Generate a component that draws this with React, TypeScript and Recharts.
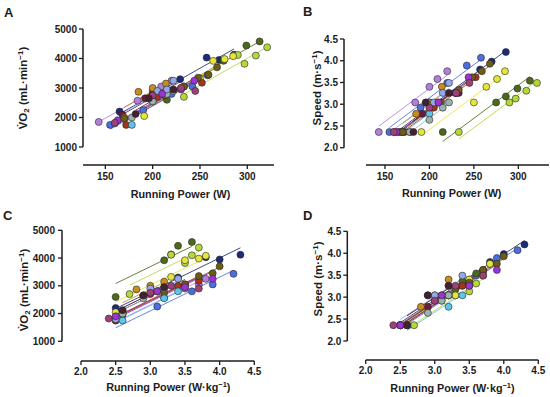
import React from 'react';
import { ScatterChart, Scatter, XAxis, YAxis, ReferenceLine } from 'recharts';

// ---- Data (one entry per participant) ----
const participants = ['P1', 'P2', 'P3', 'P4', 'P5', 'P6', 'P7', 'P8', 'P9', 'P10', 'P11', 'P12', 'P13', 'P14', 'P15', 'P16'];
const colors = ['#b37fdc', '#4d6ee0', '#1e2a78', '#4d6a1c', '#b4d83a', '#e4e63a', '#6b1b3c', '#a8321c', '#c88d1e', '#6d5c16', '#5cc6ea', '#9bb3ae', '#95a9e8', '#9a35d4', '#a13f78', '#45202f'];

const powerW = [
  [143, 184, 200, 209, 220],
  [155, 190, 220, 242, 258],
  [165, 196, 229, 257, 270, 286],
  [215, 275, 286, 299, 313],
  [233, 290, 297, 309, 321],
  [191, 250, 264, 276, 285],
  [168, 192, 200, 233],
  [172, 205, 230, 252],
  [170, 185, 200, 214],
  [170, 213, 233, 248, 259, 268],
  [178, 200, 210],
  [178, 200, 215, 222],
  [160, 205, 215, 222],
  [163, 210, 230, 244],
  [160, 200, 230, 245],
  [182, 196, 222],
];

const powerWkg = [
  [2.5, 3.2, 3.5, 3.7, 3.8],
  [2.5, 3.1, 3.6, 3.9, 4.2],
  [2.5, 2.9, 3.4, 3.8, 4.0, 4.3],
  [2.5, 3.2, 3.3, 3.4, 3.6],
  [2.7, 3.3, 3.5, 3.6, 3.7],
  [2.5, 3.3, 3.5, 3.7, 3.8],
  [2.6, 2.9, 3.1, 3.5],
  [2.5, 3.0, 3.4, 3.7],
  [2.6, 2.8, 3.0, 3.2],
  [2.6, 3.2, 3.5, 3.7, 3.9, 4.0],
  [2.6, 3.2, 3.4],
  [2.6, 2.9, 3.1, 3.2],
  [2.5, 3.0, 3.2, 3.4],
  [2.5, 3.1, 3.5, 3.9],
  [2.4, 3.0, 3.3, 3.7],
  [2.6, 2.9, 3.2],
];

const speed = [
  [2.36, 3.04, 3.40, 3.58, 3.76],
  [2.36, 2.92, 3.49, 3.89, 4.07],
  [2.36, 3.04, 3.26, 3.80, 3.98, 4.20],
  [2.36, 3.04, 3.18, 3.36, 3.54],
  [2.36, 3.04, 3.13, 3.31, 3.49],
  [2.36, 3.04, 3.40, 3.58, 3.76],
  [2.36, 2.78, 3.04, 3.26],
  [2.36, 2.92, 3.26, 3.62],
  [2.36, 2.78, 3.04, 3.40],
  [2.36, 3.04, 3.33, 3.62, 3.76, 3.93],
  [2.36, 2.78, 3.04],
  [2.36, 2.64, 2.92, 3.04],
  [2.36, 3.04, 3.26, 3.49],
  [2.36, 3.04, 3.26, 3.62],
  [2.36, 2.92, 3.26, 3.49],
  [2.36, 3.04, 3.26],
];

const vo2 = [
  [1850, 2570, 2900, 3050, 3250],
  [1750, 2250, 2800, 3050, 3430],
  [2200, 2650, 3300, 4030, 3950, 4120],
  [2600, 3920, 4130, 4440, 4580],
  [2700, 4120, 3820, 4100, 4380],
  [2050, 3320, 3920, 3980, 4080],
  [2100, 2650, 2800, 3050],
  [1750, 2700, 3000, 3180],
  [2000, 2870, 3000, 3150],
  [1960, 2750, 3050, 3350, 3450, 3700],
  [1750, 2550, 2800],
  [2000, 2550, 2800, 2900],
  [1800, 2900, 2950, 3250],
  [1900, 2800, 2950, 3250],
  [1820, 2750, 3000, 2900],
  [2120, 2650, 2950],
];

const ticksW = [150, 200, 250, 300];
const ticksWkg = [2.0, 2.5, 3.0, 3.5, 4.0, 4.5];
const ticksVO2 = [1000, 2000, 3000, 4000, 5000];
const ticksSpeed = [2.0, 2.5, 3.0, 3.5, 4.0, 4.5];

// ---- helpers ----
const FONT = '"Liberation Sans", Arial, Helvetica, sans-serif';
const INK = '#1c1c1c';

const mean = (a: number[]) => a.reduce((s, v) => s + v, 0) / a.length;

// repeated-measures fit: common slope, individual intercepts
function rmLines(xs: number[][], ys: number[][]) {
  let sxy = 0;
  let sxx = 0;
  const m = xs.map((xr, i) => {
    const mx = mean(xr);
    const my = mean(ys[i]);
    xr.forEach((x, j) => {
      sxy += (x - mx) * (ys[i][j] - my);
      sxx += (x - mx) * (x - mx);
    });
    return { mx, my };
  });
  const slope = sxy / sxx;
  return xs.map((xr, i) => {
    const x1 = Math.min(...xr);
    const x2 = Math.max(...xr);
    const b = m[i].my - slope * m[i].mx;
    return [
      { x: x1, y: b + slope * x1 },
      { x: x2, y: b + slope * x2 },
    ];
  });
}

const Dot = (color: string) => (p: any) => (
  <circle cx={p.cx} cy={p.cy} r={3.5} fill={color} stroke="#262626" strokeWidth={0.6} />
);
const NoShape = () => <g />;

type PanelProps = {
  left: number;
  top: number;
  width: number;
  height: number;
  margin: { top: number; right: number; bottom: number; left: number };
  yWidth: number;
  xHeight: number;
  xDomain: [number, number];
  yDomain: [number, number];
  xTicks: number[];
  yTicks: number[];
  xs: number[][];
  ys: number[][];
  xLineFrom: number;
  xLineTo: number;
  yLineFrom: number;
  yLineTo: number;
  xDec: number;
  yDec: number;
  yTickMargin: number;
  xTickMargin: number;
};

function Panel(props: PanelProps) {
  const {
    left, top, width, height, margin, yWidth, xHeight, xDomain, yDomain, xTicks, yTicks, xs, ys,
    xLineFrom, xLineTo, yLineFrom, yLineTo, xDec, yDec, yTickMargin, xTickMargin,
  } = props;
  const lines = rmLines(xs, ys);
  const tickStyle = { fontSize: 10, fontWeight: 700, fill: INK, fontFamily: FONT };
  return (
    <div style={{ position: 'absolute', left, top, width, height }}>
      <ScatterChart width={width} height={height} margin={margin}>
        <XAxis
          type="number"
          dataKey="x"
          domain={xDomain}
          ticks={xTicks}
          allowDataOverflow
          interval={0}
          axisLine={false}
          tickLine={{ stroke: INK, strokeWidth: 1.3 }}
          tickSize={4}
          tickMargin={xTickMargin}
          tick={tickStyle}
          height={xHeight}
          tickFormatter={(v: number) => v.toFixed(xDec)}
        />
        <YAxis
          type="number"
          dataKey="y"
          domain={yDomain}
          ticks={yTicks}
          allowDataOverflow
          interval={0}
          axisLine={false}
          tickLine={{ stroke: INK, strokeWidth: 1.3 }}
          tickSize={4}
          tickMargin={yTickMargin}
          tick={tickStyle}
          width={yWidth}
          tickFormatter={(v: number) => v.toFixed(yDec)}
        />
        <ReferenceLine
          segment={[{ x: xLineFrom, y: yDomain[0] }, { x: xLineTo, y: yDomain[0] }]}
          stroke={INK}
          strokeWidth={1.5}
          ifOverflow="visible"
        />
        <ReferenceLine
          segment={[{ x: xDomain[0], y: yLineFrom }, { x: xDomain[0], y: yLineTo }]}
          stroke={INK}
          strokeWidth={1.5}
          ifOverflow="visible"
        />
        {lines.map((seg, i) => (
          <Scatter
            key={'l' + participants[i]}
            name={participants[i] + ' fit'}
            data={seg}
            line={{ stroke: colors[i], strokeWidth: 1, strokeOpacity: 0.85 }}
            lineType="joint"
            shape={NoShape}
            isAnimationActive={false}
          />
        ))}
        {xs.map((xr, i) => (
          <Scatter
            key={'p' + participants[i]}
            name={participants[i]}
            data={xr.map((x, j) => ({ x, y: ys[i][j] }))}
            shape={Dot(colors[i])}
            isAnimationActive={false}
          />
        ))}
      </ScatterChart>
    </div>
  );
}

const tt = { fontFamily: FONT, fontWeight: 700, fill: INK } as const;

export default function App() {
  return (
    <div style={{ position: 'absolute', left: 0, top: 0, width: 550, height: 397, background: '#fff' }}>
      <Panel
        left={0} top={0} width={275} height={200}
        margin={{ top: 29, right: 1, bottom: 0, left: 0 }}
        yWidth={83} xHeight={35}
        xDomain={[126.4, 328.2]} yDomain={[390, 5000]}
        xTicks={ticksW} yTicks={ticksVO2}
        xs={powerW} ys={vo2}
        xLineFrom={126.4} xLineTo={328.2} yLineFrom={1000} yLineTo={5000}
        xDec={0} yDec={0} yTickMargin={2} xTickMargin={4}
      />
      <Panel
        left={275} top={0} width={275} height={200}
        margin={{ top: 39, right: 1, bottom: 0, left: 0 }}
        yWidth={69} xHeight={35}
        xDomain={[103.9, 334.5]} yDomain={[1.602, 4.5]}
        xTicks={ticksW} yTicks={ticksSpeed}
        xs={powerW} ys={speed}
        xLineFrom={128.6} xLineTo={334.5} yLineFrom={2.0} yLineTo={4.5}
        xDec={0} yDec={1} yTickMargin={2} xTickMargin={4}
      />
      <Panel
        left={0} top={200} width={275} height={197}
        margin={{ top: 30.3, right: 20.7, bottom: 0, left: 0 }}
        yWidth={62} xHeight={36}
        xDomain={[1.726, 4.5]} yDomain={[290, 5000]}
        xTicks={ticksWkg} yTicks={ticksVO2}
        xs={powerWkg} ys={vo2}
        xLineFrom={2.0} xLineTo={4.5} yLineFrom={1000} yLineTo={5000}
        xDec={1} yDec={0} yTickMargin={3} xTickMargin={3}
      />
      <Panel
        left={275} top={200} width={275} height={197}
        margin={{ top: 31.3, right: 11.7, bottom: 0, left: 0 }}
        yWidth={72.3} xHeight={37}
        xDomain={[1.733, 4.5]} yDomain={[1.567, 4.5]}
        xTicks={ticksWkg} yTicks={ticksSpeed}
        xs={powerWkg} ys={speed}
        xLineFrom={2.0} xLineTo={4.5} yLineFrom={2.0} yLineTo={4.5}
        xDec={1} yDec={1} yTickMargin={2} xTickMargin={3}
      />
      <svg width={550} height={397} style={{ position: 'absolute', left: 0, top: 0, pointerEvents: 'none' }}>
        <text x={4} y={17} fontSize={13} {...tt}>A</text>
        <text x={303} y={16} fontSize={13} {...tt}>B</text>
        <text x={3} y={220} fontSize={13} {...tt}>C</text>
        <text x={303} y={220} fontSize={13} {...tt}>D</text>

        <text x={180.5} y={197.5} fontSize={10.8} textAnchor="middle" {...tt}>Running Power (W)</text>
        <text x={451.7} y={197} fontSize={10.8} textAnchor="middle" {...tt}>Running Power (W)</text>
        <text x={168.3} y={391} fontSize={10.8} textAnchor="middle" {...tt}>
          Running Power (W·kg<tspan dy={-3.8} fontSize={7.5}>−1</tspan><tspan dy={3.8}>)</tspan>
        </text>
        <text x={452.5} y={392} fontSize={10.8} textAnchor="middle" {...tt}>
          Running Power (W·kg<tspan dy={-3.8} fontSize={7.5}>−1</tspan><tspan dy={3.8}>)</tspan>
        </text>

        <text transform="translate(26.5,88) rotate(-90)" fontSize={11.5} textAnchor="middle" {...tt}>
          V̇O<tspan dy={2.8} fontSize={8}>2</tspan><tspan dy={-2.8}> (mL·min</tspan><tspan dy={-4} fontSize={8}>−1</tspan><tspan dy={4}>)</tspan>
        </text>
        <text transform="translate(321,88) rotate(-90)" fontSize={11.5} textAnchor="middle" {...tt}>
          Speed (m·s<tspan dy={-4} fontSize={8}>−1</tspan><tspan dy={4}>)</tspan>
        </text>
        <text transform="translate(27.5,290) rotate(-90)" fontSize={11.5} textAnchor="middle" {...tt}>
          V̇O<tspan dy={2.8} fontSize={8}>2</tspan><tspan dy={-2.8}> (mL·min</tspan><tspan dy={-4} fontSize={8}>−1</tspan><tspan dy={4}>)</tspan>
        </text>
        <text transform="translate(321.5,279) rotate(-90)" fontSize={11.5} textAnchor="middle" {...tt}>
          Speed (m·s<tspan dy={-4} fontSize={8}>−1</tspan><tspan dy={4}>)</tspan>
        </text>
      </svg>
    </div>
  );
}
